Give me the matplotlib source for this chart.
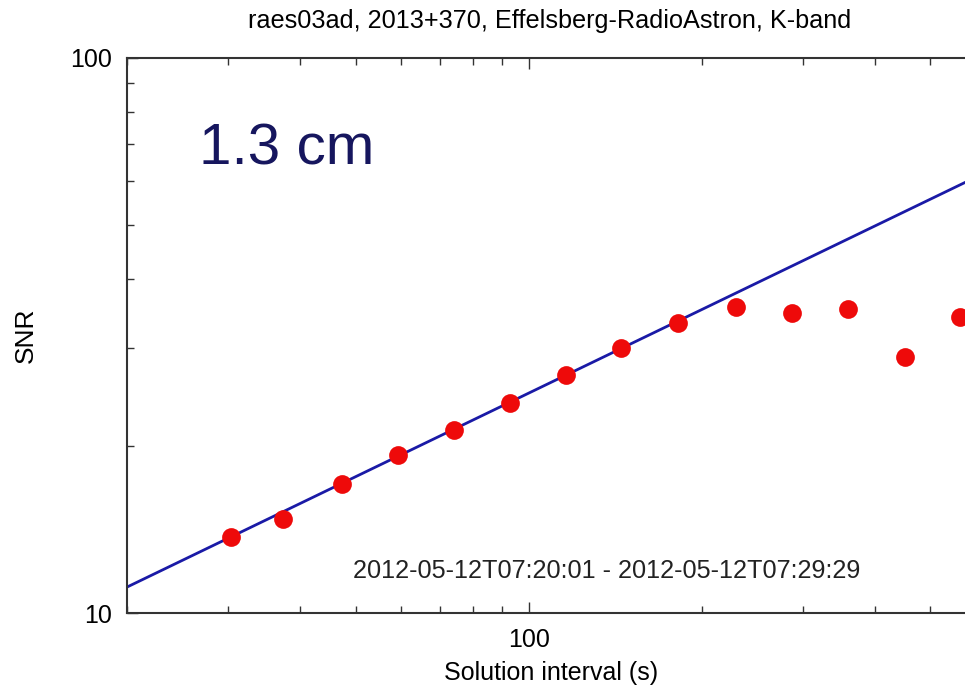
import matplotlib
matplotlib.use("Agg")
import matplotlib.pyplot as plt
from matplotlib.ticker import LogLocator, NullFormatter, FixedLocator, FixedFormatter
import numpy as np

plt.rcParams['font.family'] = ['Liberation Sans', 'DejaVu Sans']

# Solution interval (s) and measured SNR
interval_s = [30.3, 37.3, 47.3, 59.2, 74.1, 92.7, 116, 145, 182, 229, 287, 359, 451, 563]
snr = [13.70, 14.77, 17.08, 19.26, 21.37, 23.89, 26.84, 30.02, 33.30, 35.59, 34.71, 35.29, 28.93, 34.14]

# Expected sqrt(t) scaling: SNR = k * sqrt(t)
k_sqrt = 2.49
x_limits = [20, 600]
y_limits = [10, 100]

title = "raes03ad, 2013+370, Effelsberg-RadioAstron, K-band"
band_label = "1.3 cm"
time_range = "2012-05-12T07:20:01 - 2012-05-12T07:29:29"

fig = plt.figure(figsize=(9.65, 6.87), dpi=100)
ax = fig.add_axes([0.1316, 0.1077, 0.8798, 0.8079])

t_line = np.logspace(np.log10(x_limits[0]), np.log10(x_limits[1]), 200)
ax.plot(t_line, k_sqrt * np.sqrt(t_line), color='#1a1aa6', lw=2.0, zorder=2)
ax.plot(interval_s, snr, 'o', color='#ee0a0a', markersize=13.5, markeredgewidth=0, zorder=3)

ax.set_xscale('log')
ax.set_yscale('log')
ax.set_xlim(*x_limits)
ax.set_ylim(*y_limits)

ax.xaxis.set_major_locator(FixedLocator([100]))
ax.xaxis.set_major_formatter(FixedFormatter(['100']))
ax.xaxis.set_minor_locator(LogLocator(base=10, subs=np.arange(2, 10)))
ax.xaxis.set_minor_formatter(NullFormatter())
ax.yaxis.set_major_locator(FixedLocator([10, 100]))
ax.yaxis.set_major_formatter(FixedFormatter(['10', '100']))
ax.yaxis.set_minor_locator(LogLocator(base=10, subs=np.arange(2, 10)))
ax.yaxis.set_minor_formatter(NullFormatter())

ax.tick_params(which='both', direction='in', top=True, right=True, color='#333333', width=1.0)
ax.tick_params(which='major', length=8, labelsize=18, pad=11)
ax.tick_params(which='minor', length=5)
for s in ax.spines.values():
    s.set_color('#333333')
    s.set_linewidth(1.5)

ax.set_xlabel("Solution interval (s)", fontsize=18, labelpad=6)
ax.set_ylabel("SNR", fontsize=19, labelpad=23)
fig.text(0.570, 0.970, title, ha='center', va='center', fontsize=18.2)

ax.text(0.085, 0.835, band_label, transform=ax.transAxes, fontsize=42,
        color='#16165e', ha='left', va='center')
ax.text(0.565, 0.075, time_range, transform=ax.transAxes, fontsize=18.2,
        color='#222222', ha='center', va='center')

fig.savefig("out.png", dpi=100)
